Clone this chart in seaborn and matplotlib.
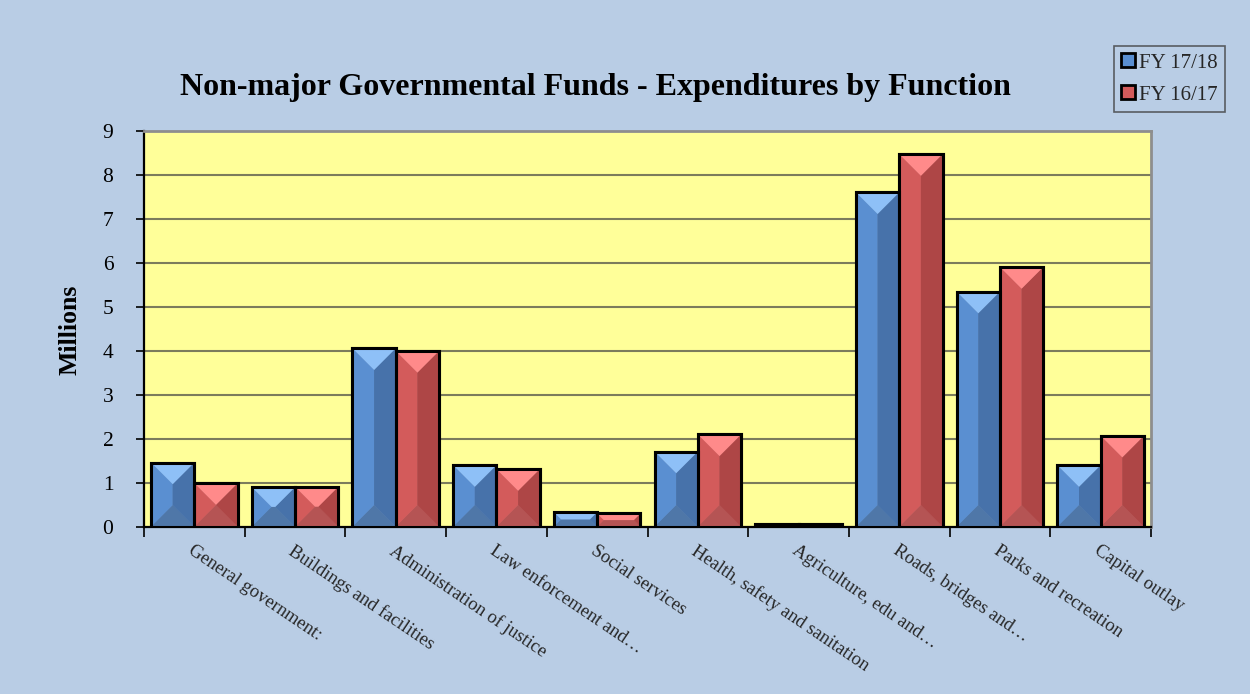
import numpy as np
import pandas as pd
import matplotlib
matplotlib.use("Agg")
import matplotlib.pyplot as plt
from matplotlib.patches import Polygon, Rectangle
from matplotlib.lines import Line2D
import seaborn as sns

# Expenditures by function, in millions
categories = [
    "General government:",
    "Buildings and facilities",
    "Administration of justice",
    "Law enforcement and…",
    "Social services",
    "Health, safety and sanitation",
    "Agriculture, edu and…",
    "Roads, bridges and…",
    "Parks and recreation",
    "Capital outlay",
]
fy_17_18 = [1.46, 0.90, 4.06, 1.40, 0.33, 1.71, 0.07, 7.61, 5.35, 1.40]
fy_16_17 = [0.99, 0.91, 4.00, 1.31, 0.30, 2.10, 0.05, 8.48, 5.91, 2.07]
series_names = ["FY 17/18", "FY 16/17"]
y_ticks = list(range(0, 10))

df = pd.DataFrame({
    "Function": categories * 2,
    "Series": [series_names[0]] * len(categories) + [series_names[1]] * len(categories),
    "Value": fy_17_18 + fy_16_17,
})

sns.set_theme(style="white")
plt.rcParams["font.family"] = ["Liberation Serif", "DejaVu Serif"]

BG = "#B9CDE5"
PLOT_BG = "#FFFF99"
# base, left face, right face, top bevel, bottom bevel
SHADES = {
    series_names[0]: dict(base="#5486C6", left="#5A8FD1", right="#4772AA", top="#8EC0F7", bottom="#4F77A8"),
    series_names[1]: dict(base="#CC5858", left="#D35B5B", right="#AE4646", top="#FF8A8A", bottom="#B55454"),
}

fig = plt.figure(figsize=(12.5, 6.94), dpi=100, facecolor=BG)
ax = fig.add_axes([0.1152, 0.2411, 0.8056, 0.5697])
ax.set_facecolor(PLOT_BG)

sns.barplot(
    data=df, x="Function", y="Value", hue="Series", order=categories,
    hue_order=series_names,
    palette=[SHADES[s]["base"] for s in series_names],
    width=0.86, gap=0, edgecolor="black", linewidth=2.2,
    legend=False, ax=ax, zorder=3,
)

ax.set_xlim(-0.5, len(categories) - 0.5)
ax.set_ylim(0, 9)
ax.set_yticks(y_ticks)
ax.set_yticklabels([str(t) for t in y_ticks], fontsize=15.5, color="black")
ax.tick_params(axis="y", direction="out", length=6, width=1.2, color="black", pad=16, left=True)

# Gridlines
for t in y_ticks[1:-1]:
    ax.axhline(t, color="#7C7C5C", lw=1.5, zorder=1)

# Category boundaries carry the ticks, centres carry the labels
ax.set_xticks(np.arange(-0.5, len(categories), 1.0))
ax.set_xticklabels([])
ax.tick_params(axis="x", which="major", direction="out", length=7, width=1.2, color="black", bottom=True)
ax.set_xticks(np.arange(len(categories)), minor=True)
ax.set_xticklabels(categories, minor=True, rotation=-34, ha="left", va="top",
                   rotation_mode="anchor", fontsize=13.3)
ax.tick_params(axis="x", which="minor", length=0, pad=11)
ax.set_xlabel("")
ax.set_ylabel("")

for side in ["left", "bottom"]:
    ax.spines[side].set_color("black")
    ax.spines[side].set_linewidth(1.6)
for side in ["top", "right"]:
    ax.spines[side].set_color("#8E8E8E")
    ax.spines[side].set_linewidth(2.0)

# Bevelled faces on each bar
fig.canvas.draw()
x0, y0 = ax.transData.transform((0, 0))
x1, y1 = ax.transData.transform((1, 1))
ppx, ppy = x1 - x0, y1 - y0
n = len(categories)
for i, bar in enumerate(ax.patches):
    sname = series_names[i // n]
    c = SHADES[sname]
    bx, by, bw, bh = bar.get_x(), bar.get_y(), bar.get_width(), bar.get_height()
    d = min(bw * ppx, bh * ppy) / 2.0
    dx, dy = d / ppx, d / ppy
    faces = [
        ([(bx, by), (bx + bw, by), (bx + bw - dx, by + dy), (bx + dx, by + dy)], c["bottom"]),
        ([(bx, by), (bx, by + bh), (bx + dx, by + bh - dy), (bx + dx, by + dy)], c["left"]),
        ([(bx + bw, by), (bx + bw, by + bh), (bx + bw - dx, by + bh - dy), (bx + bw - dx, by + dy)], c["right"]),
        ([(bx, by + bh), (bx + bw, by + bh), (bx + bw - dx, by + bh - dy), (bx + dx, by + bh - dy)], c["top"]),
    ]
    if bw - 2 * dx > 1e-9 and bh - 2 * dy > 1e-9:
        faces.append(([(bx + dx, by + dy), (bx + bw - dx, by + dy),
                       (bx + bw - dx, by + bh - dy), (bx + dx, by + bh - dy)], c["left"]))
    for pts, col in faces:
        ax.add_patch(Polygon(pts, closed=True, facecolor=col, edgecolor="none", zorder=3.1))
    ax.add_patch(Rectangle((bx, by), bw, bh, fill=False, edgecolor="black",
                           linewidth=2.2, zorder=3.2))

# Title and axis label
fig.text(0.476, 0.874, "Non-major Governmental Funds - Expenditures by Function",
         ha="center", va="center", fontsize=23, fontweight="bold", color="black")
fig.text(0.056, 0.525, "Millions", ha="center", va="center", rotation=90,
         fontsize=18.5, fontweight="bold", color="black")

# Legend
handles = [
    Line2D([], [], marker="s", linestyle="none", markersize=10,
           markerfacecolor=SHADES[s]["left"], markeredgecolor="black", markeredgewidth=2.0)
    for s in series_names
]
leg = fig.legend(handles, series_names, loc="upper right", bbox_to_anchor=(0.9800, 0.934),
                 frameon=True, fontsize=15, handlelength=0.6, handletextpad=0.25,
                 borderpad=0.35, labelspacing=0.6, fancybox=False, borderaxespad=0)
leg.get_frame().set_facecolor(BG)
leg.get_frame().set_edgecolor("#404040")
leg.get_frame().set_linewidth(1.2)

fig.savefig("out.png", dpi=100, facecolor=BG)
